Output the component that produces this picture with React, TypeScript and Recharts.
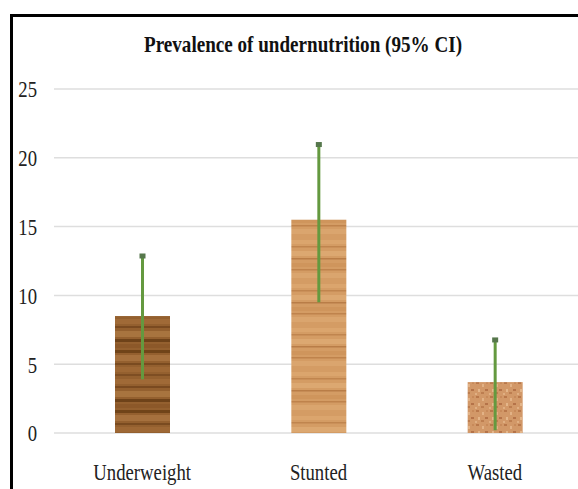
import React from 'react';
import { BarChart, Bar, XAxis, YAxis, CartesianGrid } from 'recharts';

const categories = ['Underweight', 'Stunted', 'Wasted'];
const prevalence = [8.5, 15.5, 3.7];
const ciLower = [3.9, 9.5, 0.2];
const ciUpper = [12.9, 21.0, 6.8];
const yTicks = [0, 5, 10, 15, 20, 25];
const title = 'Prevalence of undernutrition (95% CI)';

const data = categories.map((name, i) => ({
  name,
  value: prevalence[i],
  lo: ciLower[i],
  hi: ciUpper[i],
  idx: i,
}));

const FONT = 'Liberation Serif';

function Patterns() {
  return (
    <defs>
      <pattern id="woodDark" patternUnits="userSpaceOnUse" width="56" height="60">
        <rect width="56" height="60" fill="#94602f" />
        <rect y="2" width="56" height="5" fill="#a06a37" />
        <rect y="9" width="56" height="2" fill="#7a4a20" />
        <rect y="14" width="56" height="6" fill="#a8743f" />
        <rect y="22" width="56" height="3" fill="#6e4219" />
        <rect y="27" width="56" height="4" fill="#8c5829" />
        <rect y="33" width="56" height="3" fill="#704419" />
        <rect y="38" width="56" height="6" fill="#a6713e" />
        <rect y="46" width="56" height="2" fill="#7a4b20" />
        <rect y="50" width="56" height="5" fill="#9e6835" />
        <rect y="57" width="56" height="2" fill="#7e4e23" />
      </pattern>
      <pattern id="woodLight" patternUnits="userSpaceOnUse" width="54" height="44">
        <rect width="54" height="44" fill="#d49c64" />
        <rect y="3" width="54" height="4" fill="#dba56d" />
        <rect y="9" width="54" height="1.5" fill="#c0854e" />
        <rect y="14" width="54" height="5" fill="#dca871" />
        <rect y="21" width="54" height="1.5" fill="#b97d47" />
        <rect y="26" width="54" height="4" fill="#cf955c" />
        <rect y="32" width="54" height="1.5" fill="#bf834c" />
        <rect y="36" width="54" height="5" fill="#daa56e" />
      </pattern>
      <pattern id="cork" patternUnits="userSpaceOnUse" width="14" height="14">
        <rect width="14" height="14" fill="#d29868" />
        <rect x="1" y="1" width="3" height="2" fill="#b9784b" />
        <rect x="7" y="3" width="2" height="3" fill="#e2b286" />
        <rect x="10" y="8" width="3" height="2" fill="#b4714640" />
        <rect x="10" y="8" width="3" height="2" fill="#b57349" />
        <rect x="3" y="8" width="2" height="3" fill="#e4b68a" />
        <rect x="6" y="11" width="3" height="2" fill="#bd7e50" />
        <rect x="11" y="1" width="2" height="2" fill="#c88a5a" />
        <rect x="0" y="12" width="2" height="2" fill="#e0af82" />
      </pattern>
    </defs>
  );
}

const fills = ['url(#woodDark)', 'url(#woodLight)', 'url(#cork)'];

function BarWithCI(props: any) {
  const { x, y, width, height, payload, value } = props;
  const ratio = value ? height / value : 0;
  const bottom = y + height;
  const yHi = bottom - payload.hi * ratio;
  const yLo = bottom - payload.lo * ratio;
  const cx = x + width / 2;
  return (
    <g>
      <Patterns />
      <rect x={x} y={y} width={width} height={height} fill={fills[payload.idx]} />
      <line x1={cx} x2={cx} y1={yLo} y2={yHi} stroke="#64993f" strokeWidth={3} />
      <rect x={cx - 3} y={yHi - 2} width={6} height={5} fill="#56774c" />
    </g>
  );
}

function YTick(props: any) {
  const { x, y, payload } = props;
  return (
    <g transform={`translate(${x},${y}) scale(0.78,1)`}>
      <text x={0} y={0} dy="0.35em" textAnchor="end" fontFamily={FONT} fontSize={24} fill="#222">
        {payload.value}
      </text>
    </g>
  );
}

function XTick(props: any) {
  const { x, y, payload } = props;
  return (
    <g transform={`translate(${x},${y}) scale(0.78,1)`}>
      <text x={0} y={0} dy="0.35em" textAnchor="middle" fontFamily={FONT} fontSize={24} fill="#222">
        {payload.value}
      </text>
    </g>
  );
}

export default function App() {
  return (
    <div style={{ position: 'relative', width: 578, height: 489, overflow: 'hidden', background: '#fff' }}>
      <style>{'html,body{margin:0;padding:0;overflow:hidden;background:#fff}'}</style>
      <div
        style={{
          position: 'absolute',
          left: 10,
          top: 14,
          width: 600,
          height: 500,
          borderLeft: '3px solid #000',
          borderTop: '3px solid #000',
        }}
      >
        <BarChart
          width={570}
          height={472}
          data={data}
          margin={{ top: 72, right: 0, left: 0, bottom: 0 }}
          barCategoryGap={0}
          style={{ fontFamily: FONT }}
        >
          <text
            x={290}
            y={27}
            dy="0.35em"
            textAnchor="middle"
            fontFamily={FONT}
            fontWeight="bold"
            fontSize={23}
            fill="#111"
            textLength={318}
            lengthAdjust="spacingAndGlyphs"
          >
            {title}
          </text>
          <CartesianGrid vertical={false} stroke="#dedede" strokeWidth={1.5} />
          <XAxis
            dataKey="name"
            height={56}
            axisLine={false}
            tickLine={false}
            tickSize={0}
            tickMargin={39}
            tick={<XTick />}
          />
          <YAxis
            width={41}
            domain={[0, 25]}
            ticks={yTicks}
            axisLine={false}
            tickLine={false}
            tickSize={0}
            tickMargin={17}
            tick={<YTick />}
          />
          <Bar dataKey="value" barSize={55} isAnimationActive={false} shape={<BarWithCI />} />
        </BarChart>
      </div>
    </div>
  );
}
